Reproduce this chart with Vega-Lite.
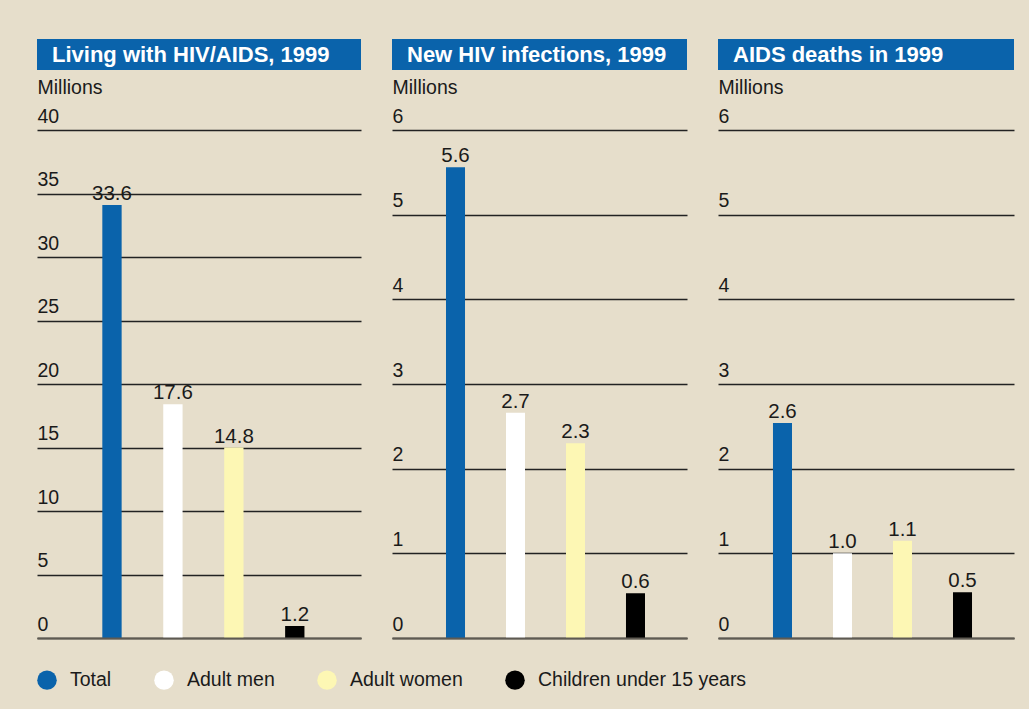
{
  "$schema": "https://vega.github.io/schema/vega-lite/v6.json",
  "background": "#e6decb",
  "padding": {"left": 37, "top": 39, "right": 16, "bottom": 22},
  "config": {
    "view": {"stroke": null},
    "font": "Liberation Sans",
    "legend": {
      "symbolType": "circle",
      "symbolSize": 380,
      "symbolStrokeWidth": 0,
      "labelFont": "Liberation Sans",
      "labelFontSize": 19.5,
      "labelColor": "#1a1a1a",
      "labelOffset": 13,
      "labelLimit": 0,
      "columnPadding": 42,
      "padding": 0
    }
  },
  "datasets": {
    "bars": [
      {"panel": "living", "group": "Total", "value": 34.1, "label": "33.6"},
      {"panel": "living", "group": "Adult men", "value": 18.4, "label": "17.6"},
      {"panel": "living", "group": "Adult women", "value": 15.0, "label": "14.8"},
      {"panel": "living", "group": "Children under 15 years", "value": 0.95, "label": "1.2"},
      {"panel": "new", "group": "Total", "value": 5.56, "label": "5.6"},
      {"panel": "new", "group": "Adult men", "value": 2.66, "label": "2.7"},
      {"panel": "new", "group": "Adult women", "value": 2.3, "label": "2.3"},
      {"panel": "new", "group": "Children under 15 years", "value": 0.53, "label": "0.6"},
      {"panel": "deaths", "group": "Total", "value": 2.54, "label": "2.6"},
      {"panel": "deaths", "group": "Adult men", "value": 1.0, "label": "1.0"},
      {"panel": "deaths", "group": "Adult women", "value": 1.15, "label": "1.1"},
      {"panel": "deaths", "group": "Children under 15 years", "value": 0.54, "label": "0.5"}
    ]
  },
  "spacing": 31,
  "hconcat": [
    {
      "bounds": "flush",
      "spacing": 60,
      "vconcat": [
        {
          "width": 324, "height": 31,
          "data": {"values": [{"title": "Living with HIV/AIDS, 1999"}]},
          "view": {"fill": "#0a63ab", "stroke": null},
          "mark": {"type": "text", "align": "left", "baseline": "middle", "color": "#ffffff", "font": "Liberation Sans", "fontWeight": "bold", "fontSize": 22, "dx": 15},
          "encoding": {
            "x": {"field": "title", "type": "nominal", "axis": null, "bandPosition": 0, "scale": {"type": "band", "paddingInner": 0, "paddingOuter": 0}},
            "text": {"field": "title"}
          }
        },
        {
          "width": 324, "height": 508,
          "data": {"name": "bars"},
          "transform": [{"filter": "datum.panel === 'living'"}],
          "encoding": {
            "x": {"field": "group", "type": "nominal", "sort": ["Total", "Adult men", "Adult women", "Children under 15 years"],
              "scale": {"paddingInner": 0.683, "paddingOuter": 1.042, "align": 0.536},
              "axis": {"labels": false, "ticks": false, "title": null, "domainColor": "#5e5a52", "domainWidth": 2, "zindex": 1}},
            "y": {"field": "value", "type": "quantitative", "scale": {"domain": [0, 40], "nice": false},
              "axis": {"values": [0, 5, 10, 15, 20, 25, 30, 35, 40], "grid": true, "gridColor": "#222222", "gridWidth": 1.5, "domain": false, "ticks": false, "tickSize": 0,
                "labelAlign": "left", "labelBaseline": "alphabetic", "labelPadding": 0, "labelDx": 1, "labelOffset": -8, "labelFont": "Liberation Sans", "labelFontSize": 19.5, "labelColor": "#1a1a1a",
                "title": "Millions", "titleAngle": 0, "titleAlign": "left", "titleBaseline": "alphabetic", "titleX": 0, "titleY": -37, "titleFont": "Liberation Sans", "titleFontSize": 19.5, "titleFontWeight": "normal", "titleColor": "#1a1a1a"}}
          },
          "layer": [
            {"mark": {"type": "bar"},
              "encoding": {"color": {"field": "group", "type": "nominal", "sort": ["Total", "Adult men", "Adult women", "Children under 15 years"],
                "scale": {"domain": ["Total", "Adult men", "Adult women", "Children under 15 years"], "range": ["#0a63ab", "#ffffff", "#fdf7b4", "#000000"]},
                "legend": {"orient": "none", "direction": "horizontal", "title": null, "legendX": 0, "legendY": 631}}}},
            {"mark": {"type": "text", "baseline": "alphabetic", "dy": -5, "font": "Liberation Sans", "fontSize": 20.5, "color": "#1a1a1a"},
              "encoding": {"text": {"field": "label"}}}
          ]
        }
      ]
    },
    {
      "bounds": "flush",
      "spacing": 60,
      "vconcat": [
        {
          "width": 295, "height": 31,
          "data": {"values": [{"title": "New HIV infections, 1999"}]},
          "view": {"fill": "#0a63ab", "stroke": null},
          "mark": {"type": "text", "align": "left", "baseline": "middle", "color": "#ffffff", "font": "Liberation Sans", "fontWeight": "bold", "fontSize": 22, "dx": 15},
          "encoding": {
            "x": {"field": "title", "type": "nominal", "axis": null, "bandPosition": 0, "scale": {"type": "band", "paddingInner": 0, "paddingOuter": 0}},
            "text": {"field": "title"}
          }
        },
        {
          "width": 295, "height": 508,
          "data": {"name": "bars"},
          "transform": [{"filter": "datum.panel === 'new'"}],
          "encoding": {
            "x": {"field": "group", "type": "nominal", "sort": ["Total", "Adult men", "Adult women", "Children under 15 years"],
              "scale": {"paddingInner": 0.683, "paddingOuter": 0.8, "align": 0.5625},
              "axis": {"labels": false, "ticks": false, "title": null, "domainColor": "#5e5a52", "domainWidth": 2, "zindex": 1}},
            "y": {"field": "value", "type": "quantitative", "scale": {"domain": [0, 6], "nice": false},
              "axis": {"values": [0, 1, 2, 3, 4, 5, 6], "grid": true, "gridColor": "#222222", "gridWidth": 1.5, "domain": false, "ticks": false, "tickSize": 0,
                "labelAlign": "left", "labelBaseline": "alphabetic", "labelPadding": 0, "labelDx": 1, "labelOffset": -8, "labelFont": "Liberation Sans", "labelFontSize": 19.5, "labelColor": "#1a1a1a",
                "title": "Millions", "titleAngle": 0, "titleAlign": "left", "titleBaseline": "alphabetic", "titleX": 0, "titleY": -37, "titleFont": "Liberation Sans", "titleFontSize": 19.5, "titleFontWeight": "normal", "titleColor": "#1a1a1a"}}
          },
          "layer": [
            {"mark": {"type": "bar"},
              "encoding": {"color": {"field": "group", "type": "nominal", "sort": ["Total", "Adult men", "Adult women", "Children under 15 years"],
                "scale": {"domain": ["Total", "Adult men", "Adult women", "Children under 15 years"], "range": ["#0a63ab", "#ffffff", "#fdf7b4", "#000000"]},
                "legend": {"orient": "none", "direction": "horizontal", "title": null, "legendX": 0, "legendY": 631}}}},
            {"mark": {"type": "text", "baseline": "alphabetic", "dy": -5, "font": "Liberation Sans", "fontSize": 20.5, "color": "#1a1a1a"},
              "encoding": {"text": {"field": "label"}}}
          ]
        }
      ]
    },
    {
      "bounds": "flush",
      "spacing": 60,
      "vconcat": [
        {
          "width": 296, "height": 31,
          "data": {"values": [{"title": "AIDS deaths in 1999"}]},
          "view": {"fill": "#0a63ab", "stroke": null},
          "mark": {"type": "text", "align": "left", "baseline": "middle", "color": "#ffffff", "font": "Liberation Sans", "fontWeight": "bold", "fontSize": 22, "dx": 15},
          "encoding": {
            "x": {"field": "title", "type": "nominal", "axis": null, "bandPosition": 0, "scale": {"type": "band", "paddingInner": 0, "paddingOuter": 0}},
            "text": {"field": "title"}
          }
        },
        {
          "width": 296, "height": 508,
          "data": {"name": "bars"},
          "transform": [{"filter": "datum.panel === 'deaths'"}],
          "encoding": {
            "x": {"field": "group", "type": "nominal", "sort": ["Total", "Adult men", "Adult women", "Children under 15 years"],
              "scale": {"paddingInner": 0.683, "paddingOuter": 0.808, "align": 0.567},
              "axis": {"labels": false, "ticks": false, "title": null, "domainColor": "#5e5a52", "domainWidth": 2, "zindex": 1}},
            "y": {"field": "value", "type": "quantitative", "scale": {"domain": [0, 6], "nice": false},
              "axis": {"values": [0, 1, 2, 3, 4, 5, 6], "grid": true, "gridColor": "#222222", "gridWidth": 1.5, "domain": false, "ticks": false, "tickSize": 0,
                "labelAlign": "left", "labelBaseline": "alphabetic", "labelPadding": 0, "labelDx": 1, "labelOffset": -8, "labelFont": "Liberation Sans", "labelFontSize": 19.5, "labelColor": "#1a1a1a",
                "title": "Millions", "titleAngle": 0, "titleAlign": "left", "titleBaseline": "alphabetic", "titleX": 0, "titleY": -37, "titleFont": "Liberation Sans", "titleFontSize": 19.5, "titleFontWeight": "normal", "titleColor": "#1a1a1a"}}
          },
          "layer": [
            {"mark": {"type": "bar"},
              "encoding": {"color": {"field": "group", "type": "nominal", "sort": ["Total", "Adult men", "Adult women", "Children under 15 years"],
                "scale": {"domain": ["Total", "Adult men", "Adult women", "Children under 15 years"], "range": ["#0a63ab", "#ffffff", "#fdf7b4", "#000000"]},
                "legend": {"orient": "none", "direction": "horizontal", "title": null, "legendX": 0, "legendY": 631}}}},
            {"mark": {"type": "text", "baseline": "alphabetic", "dy": -5, "font": "Liberation Sans", "fontSize": 20.5, "color": "#1a1a1a"},
              "encoding": {"text": {"field": "label"}}}
          ]
        }
      ]
    }
  ]
}
